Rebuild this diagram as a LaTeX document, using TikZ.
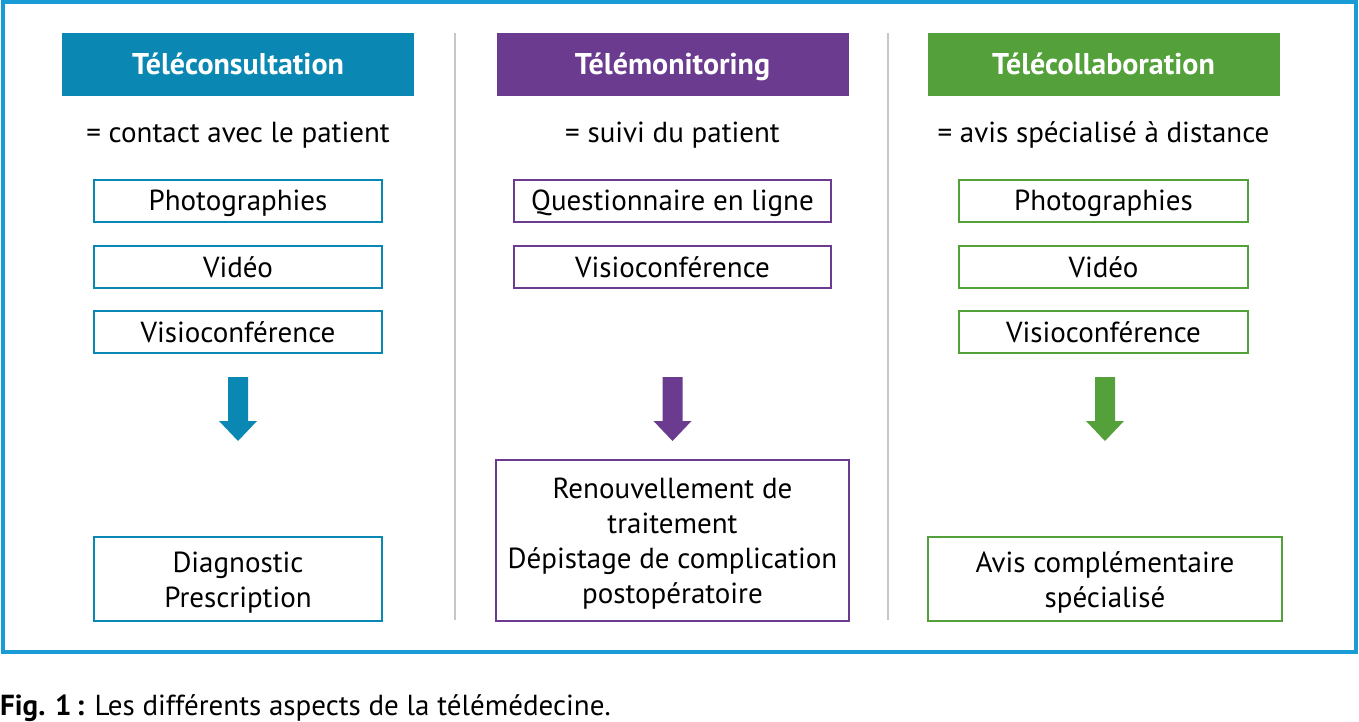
\documentclass[tikz,border=0pt]{standalone}
\usepackage{fontspec}
\setmainfont{PT Sans}
\usetikzlibrary{calc}
\definecolor{FrameClr}{rgb}{0.10,0.61,0.84}
\definecolor{SepClr}{rgb}{0.78,0.78,0.78}
\definecolor{ConsultClr}{rgb}{0.04,0.53,0.70}
\definecolor{MonitClr}{rgb}{0.42,0.23,0.56}
\definecolor{CollabClr}{rgb}{0.33,0.63,0.23}
\newcommand\topstrut{\rule{0pt}{27pt}}

\begin{document}
\begin{tikzpicture}[x=1pt,y=-1pt,
  every node/.style={font=\fontsize{29}{35}\selectfont,inner sep=0pt},
  fixed/.style={text height=24pt,text depth=4pt},
  head/.style={fixed,fill=#1,text=white,font=\fontsize{30}{35}\selectfont\bfseries,
    minimum width=352pt,minimum height=63pt},
  item/.style={fixed,draw=#1,line width=2pt,fill=white,minimum height=42pt,align=center},
  result/.style={draw=#1,line width=2pt,fill=white,align=center}]
\useasboundingbox (0,0) rectangle (1359,722);

% Cadre extérieur.
\draw[FrameClr,line width=4pt] (2.5,2.5) rectangle (1356,651.5);

% Séparateurs entre les colonnes.
\draw[SepClr,line width=2.5pt] (455,33) -- (455,620);
\draw[SepClr,line width=2.5pt] (888,33) -- (888,620);

% Titres des trois colonnes.
\node[head=ConsultClr] (consult) at (238,64.5) {Téléconsultation};
\node[head=MonitClr] (monit) at (672.5,64.5) {Télémonitoring};
\node[head=CollabClr] (collab) at (1103.5,64.5) {Télécollaboration};

% Définitions.
\node[fixed] (defconsult) at (238,133) {= contact avec le patient};
\node[fixed] (defmonit) at (672.5,133) {= suivi du patient};
\node[fixed] (defcollab) at (1103.5,133) {= avis spécialisé à distance};

% Moyens utilisés.
\node[item=ConsultClr,minimum width=288pt] (cphoto) at (238,201) {Photographies};
\node[item=ConsultClr,minimum width=288pt] (cvideo) at (238,267) {Vidéo};
\node[item=ConsultClr,minimum width=288pt] (cvisio) at (238,332) {Visioconférence};
\node[item=MonitClr,minimum width=317pt] (mquest) at (672.5,201) {Questionnaire en ligne};
\node[item=MonitClr,minimum width=317pt] (mvisio) at (672.5,267) {Visioconférence};
\node[item=CollabClr,minimum width=289pt] (kphoto) at (1103.5,201) {Photographies};
\node[item=CollabClr,minimum width=289pt] (kvideo) at (1103.5,267) {Vidéo};
\node[item=CollabClr,minimum width=289pt] (kvisio) at (1103.5,332) {Visioconférence};

% Flèches.
\foreach \x/\clr in {238/ConsultClr,672.5/MonitClr,1105/CollabClr}
  \fill[\clr] (\x-10,377) -- (\x+10,377) -- (\x+10,421) -- (\x+19,421)
    -- (\x,441) -- (\x-19,421) -- (\x-10,421) -- cycle;

% Résultats.
\node[result=ConsultClr,minimum width=288pt,minimum height=84pt] (cres) at (238,579)
  {\topstrut Diagnostic\\Prescription};
\node[result=MonitClr,minimum width=353pt,minimum height=161pt] (mres) at (672.5,540.5)
  {\topstrut Renouvellement de\\traitement\\Dépistage de complication\\postopératoire};
\node[result=CollabClr,minimum width=354pt,minimum height=84pt] (kres) at (1105,579)
  {\topstrut Avis complémentaire\\spécialisé};

% Légende.
\node[anchor=base west] (legende) at (0,715) {\textbf{Fig. 1\,:} Les différents aspects de la télémédecine.};

\end{tikzpicture}
\end{document}
